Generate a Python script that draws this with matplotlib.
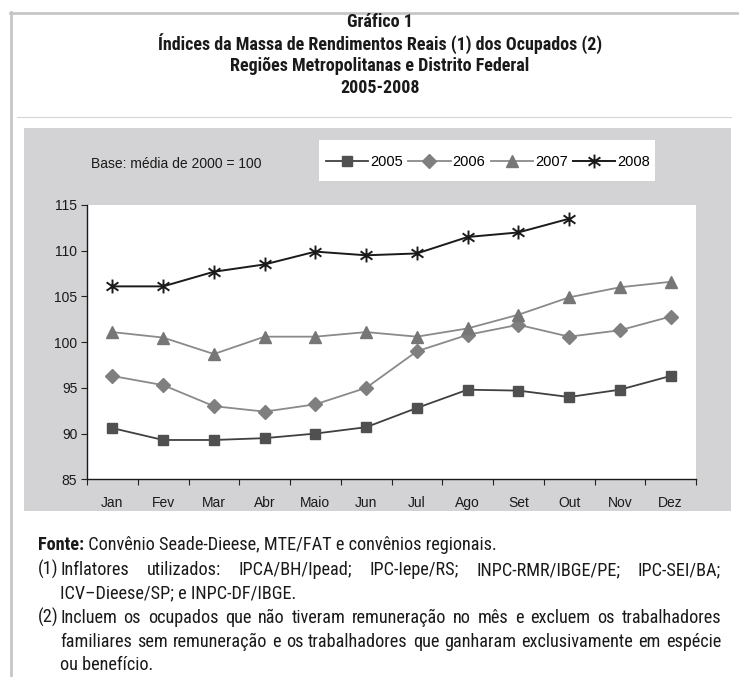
import matplotlib
matplotlib.use('Agg')
import matplotlib.pyplot as plt
from matplotlib.path import Path
from matplotlib.patches import Rectangle
from matplotlib.lines import Line2D

months = ['Jan', 'Fev', 'Mar', 'Abr', 'Maio', 'Jun', 'Jul', 'Ago', 'Set', 'Out', 'Nov', 'Dez']
years = ['2005', '2006', '2007', '2008']
s2005 = [90.6, 89.3, 89.3, 89.5, 90.0, 90.7, 92.8, 94.8, 94.7, 94.0, 94.8, 96.3]
s2006 = [96.3, 95.3, 93.0, 92.4, 93.2, 95.0, 99.0, 100.8, 101.9, 100.6, 101.3, 102.8]
s2007 = [101.1, 100.5, 98.7, 100.6, 100.6, 101.1, 100.6, 101.5, 103.0, 104.9, 106.0, 106.6]
s2008 = [106.1, 106.1, 107.7, 108.5, 109.9, 109.5, 109.7, 111.5, 112.0, 113.5]
yticks = [85, 90, 95, 100, 105, 110, 115]

W, H = 739, 677
NARROW = ['Roboto Condensed', 'DejaVu Sans']
REG = ['Liberation Sans', 'DejaVu Sans']
INK = '#1a1a1a'

def fx(x):
    return x / W

def fy(y):
    return 1 - y / H

fig = plt.figure(figsize=(W / 100, H / 100), dpi=100)
fig.patch.set_facecolor('white')

# frame lines
fig.add_artist(Line2D([fx(10), fx(W)], [fy(13), fy(13)], color='#c4c4c4', lw=1.9))
fig.add_artist(Line2D([fx(11.3), fx(11.3)], [fy(12), 0], color='#c4c4c4', lw=1.9))
fig.add_artist(Line2D([fx(17), fx(731)], [fy(117), fy(117)], color='#d6d6d6', lw=0.8))

# gray chart area
fig.add_artist(Rectangle((fx(24), fy(511)), fx(731) - fx(24), fy(128) - fy(511),
                         transform=fig.transFigure, facecolor='#d3d3d5', edgecolor='none', zorder=0))

# title
titles = ['Gráfico 1', 'Índices da Massa de Rendimentos Reais (1) dos Ocupados (2)',
          'Regiões Metropolitanas e Distrito Federal', '2005-2008']
for i, t in enumerate(titles):
    fig.text(fx(380), fy(22 + i * 22), t, ha='center', va='center', fontsize=13,
             fontweight='bold', family=NARROW, color=INK)

# axes
ax = fig.add_axes([fx(87), fy(479.3), fx(696) - fx(87), fy(205) - fy(479.3)])
ax.set_facecolor('white')
x = list(range(1, 13))

star = Path([(0, -1), (0, 1), (-0.85, -0.6), (0.85, 0.6), (-0.85, 0.6), (0.85, -0.6)],
            [Path.MOVETO, Path.LINETO, Path.MOVETO, Path.LINETO, Path.MOVETO, Path.LINETO])

ax.plot(x, s2005, color='#404040', lw=1.3, marker='s', ms=7, mfc='#505050', mec='#505050', label=years[0])
ax.plot(x, s2006, color='#8a8a8a', lw=1.3, marker='D', ms=7.5, mfc='#7f7f7f', mec='#7f7f7f', label=years[1])
ax.plot(x, s2007, color='#8a8a8a', lw=1.3, marker='^', ms=9, mfc='#767676', mec='#767676', label=years[2])
ax.plot(x[:len(s2008)], s2008, color=INK, lw=1.4, marker=star, ms=10, mew=1.4,
        mfc='none', mec=INK, label=years[3])

ax.set_xlim(0.5, 12.5)
ax.set_ylim(85, 115)
ax.set_yticks(yticks)
ax.set_yticklabels([str(v) for v in yticks])
ax.set_xticks(x)
ax.set_xticklabels(months)
ax.set_xticks([i + 0.5 for i in range(0, 13)], minor=True)
ax.tick_params(axis='x', which='major', length=0, pad=12)
ax.tick_params(axis='x', which='minor', length=4, width=0.8, direction='out', color='#222222')
ax.tick_params(axis='y', length=4, width=0.8, direction='out', color='#222222', pad=3)
for lab in ax.get_xticklabels() + ax.get_yticklabels():
    lab.set_fontfamily(REG)
    lab.set_fontsize(10)
    lab.set_color(INK)
for s in ['top', 'right']:
    ax.spines[s].set_visible(False)
for s in ['left', 'bottom']:
    ax.spines[s].set_color(INK)
    ax.spines[s].set_linewidth(1.0)

# base note
fig.text(fx(91), fy(164), 'Base: média de 2000 = 100', ha='left', va='center',
         fontsize=10, family=REG, color=INK)

# legend
fig.add_artist(Rectangle((fx(319), fy(181)), fx(655) - fx(319), fy(140) - fy(181),
                         transform=fig.transFigure, facecolor='white', edgecolor='none', zorder=1))
handles, labels = ax.get_legend_handles_labels()
leg = fig.legend(handles, labels, loc='center', bbox_to_anchor=(fx(488), fy(162)), ncol=4,
                 frameon=False, handlelength=2.9, handletextpad=0.15, columnspacing=0.35,
                 borderpad=0, prop={'family': REG, 'size': 10.5})
leg.set_zorder(3)

# footnotes
fig.canvas.draw()
renderer = fig.canvas.get_renderer()

line2 = 'Incluem os ocupados que não tiveram remuneração no mês e excluem os trabalhadores'
probe = fig.text(0, 0, line2, fontsize=10, family=NARROW)
wprobe = probe.get_window_extent(renderer).width
probe.remove()
FS = min(13.5, 10 * (721 - 60) * 0.95 / wprobe)

def justify(words, x0, x1, yb, size=FS):
    ts = [fig.text(0, 0, w, fontsize=size, family=NARROW, color=INK, va='baseline') for w in words]
    ws = [t.get_window_extent(renderer).width for t in ts]
    gap = (x1 - x0 - sum(ws)) / (len(words) - 1)
    xx = x0
    for t, w in zip(ts, ws):
        t.set_position((fx(xx), fy(yb)))
        xx += w + gap

def plain(text, x0, yb, size=FS, weight='normal'):
    t = fig.text(fx(x0), fy(yb), text, fontsize=size, family=NARROW, color=INK,
                 va='baseline', fontweight=weight)
    return t.get_window_extent(renderer).width

IND = 60
wF = plain('Fonte:', 38, 550, weight='bold')
plain(' Convênio Seade-Dieese, MTE/FAT e convênios regionais.', 38 + wF, 550)
plain('(1)', 38, 575)
justify('Inflatores utilizados: IPCA/BH/Ipead; IPC-Iepe/RS; INPC-RMR/IBGE/PE; IPC-SEI/BA;'.split(),
        IND, 721, 575)
plain('ICV–Dieese/SP; e INPC-DF/IBGE.', IND, 598)
plain('(2)', 38, 623)
justify(line2.split(), IND, 721, 623)
justify('familiares sem remuneração e os trabalhadores que ganharam exclusivamente em espécie'.split(),
        IND, 721, 647)
plain('ou benefício.', IND, 670)

fig.savefig('out.png', dpi=100, facecolor='white')
